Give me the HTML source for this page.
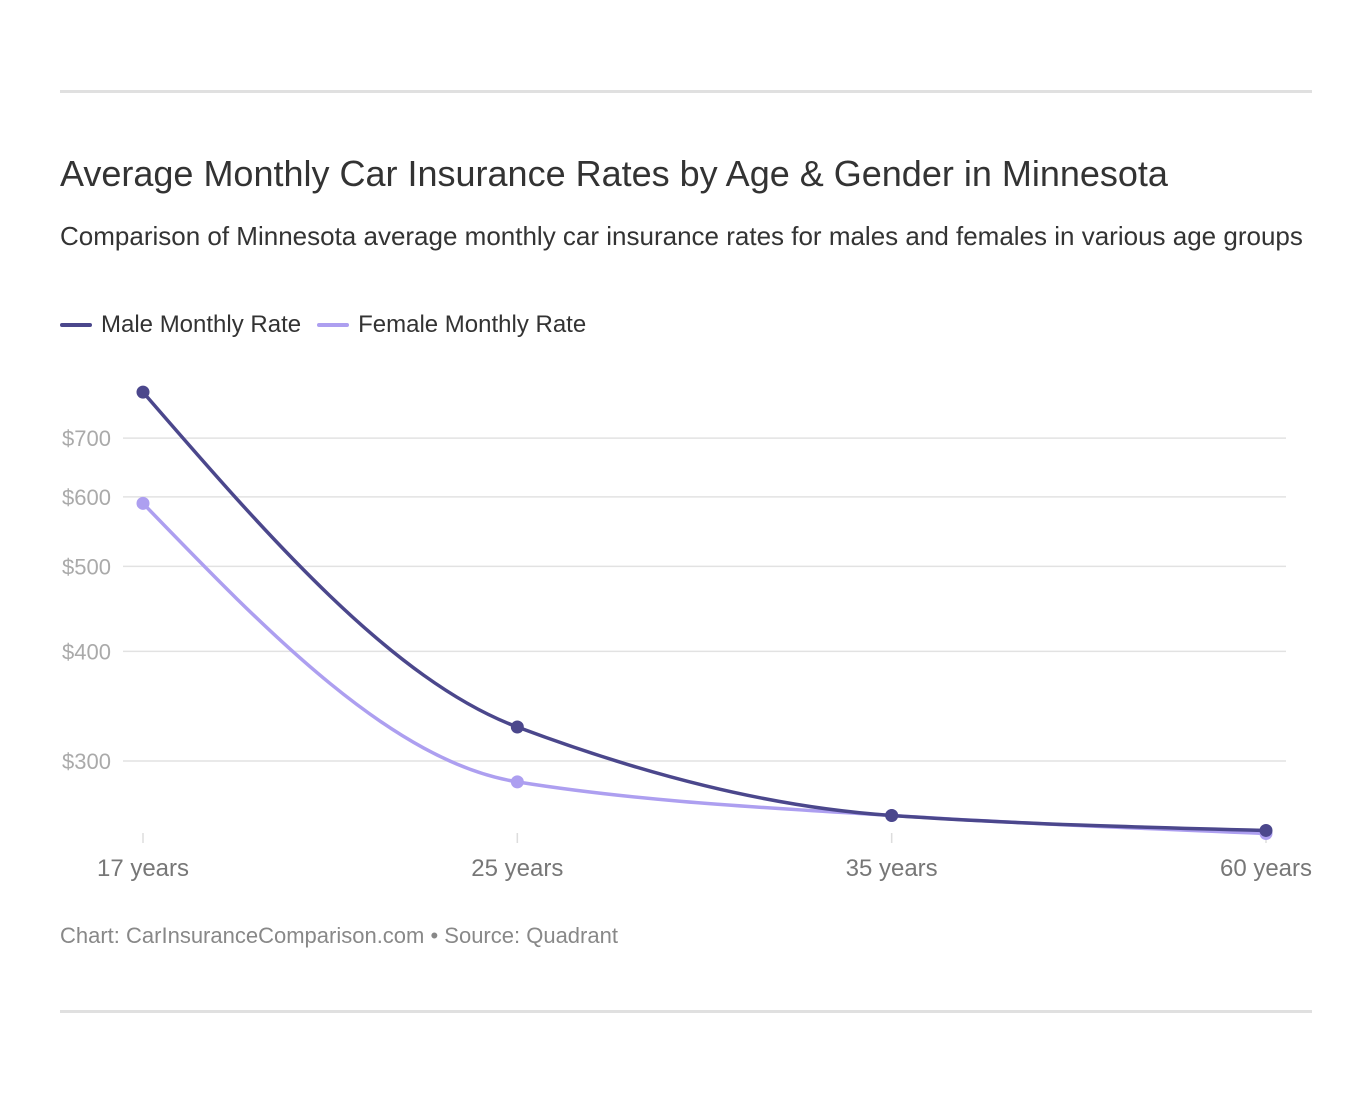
<!DOCTYPE html>
<html><head><meta charset="utf-8"><style>
body{margin:0;background:#fff;font-family:"Liberation Sans",Arial,sans-serif;}
.wrap{position:relative;width:1372px;height:1104px;}
.rule{position:absolute;left:60px;width:1252px;height:3px;background:#e0e0e0;}
h1{position:absolute;left:60px;top:153px;margin:0;font-size:36px;font-weight:normal;color:#333;white-space:nowrap;}
.sub{position:absolute;left:60px;top:221px;font-size:26px;color:#333;white-space:nowrap;}
.legend{position:absolute;left:60px;top:311px;font-size:24px;color:#333;display:flex;gap:16px;}
.li{display:flex;align-items:center;gap:9px;}
.sw{width:32px;height:4px;border-radius:2px;}
.foot{position:absolute;left:60px;top:923px;font-size:22px;color:#888;}
svg{position:absolute;left:0;top:0;}
</style></head><body>
<div class="wrap">
<div class="rule" style="top:90px"></div>
<h1>Average Monthly Car Insurance Rates by Age &amp; Gender in Minnesota</h1>
<div class="sub">Comparison of Minnesota average monthly car insurance rates for males and females in various age groups</div>
<div class="legend">
<div class="li"><span class="sw" style="background:#4b478c"></span>Male Monthly Rate</div>
<div class="li"><span class="sw" style="background:#ad9ff0"></span>Female Monthly Rate</div>
</div>
<svg id="chart" width="1372" height="1104"></svg>
<div class="foot">Chart: CarInsuranceComparison.com • Source: Quadrant</div>
<div class="rule" style="top:1010px"></div>
</div>
<script>
const categories=["17 years","25 years","35 years","60 years"];
const maleValues=[790,328,260,250];
const femaleValues=[590,284,260,248];
const yTicks=[300,400,500,600,700];
const yTickLabels=["$300","$400","$500","$600","$700"];
const NS="http://www.w3.org/2000/svg";
const svg=document.getElementById('chart');
const x0=143,x1=1266;
function xs(i){return x0+(x1-x0)*i/(categories.length-1);}
function ys(v){return 761-381*Math.log(v/300);}
function mk(t,a){const e=document.createElementNS(NS,t);for(const k in a)e.setAttribute(k,a[k]);svg.appendChild(e);return e;}
yTicks.forEach((t,i)=>{
 const l=mk('line',{x1:123,x2:1286,y1:ys(t),y2:ys(t),stroke:'#e2e2e2','stroke-width':1.5});
 
 
 const tx=mk('text',{x:62,y:ys(t)+8,'font-size':22,fill:'#aaa','font-family':'Liberation Sans,sans-serif'});
 tx.textContent=yTickLabels[i];
 
 
});
categories.forEach((c,i)=>{
 const l=mk('line',{x1:xs(i),x2:xs(i),y1:833,y2:843,stroke:'#ddd','stroke-width':1.5});
 
 
 const tx=mk('text',{x:xs(i),y:876,'font-size':24,fill:'#777','text-anchor':'middle','font-family':'Liberation Sans,sans-serif'});
 tx.textContent=c;
 
 
});
function monotonePath(px,py){
 const n=px.length,d=[],m=[];
 for(let i=0;i<n-1;i++)d.push((py[i+1]-py[i])/(px[i+1]-px[i]));
 for(let i=0;i<n;i++){
  if(i==0)m.push(d[0]);else if(i==n-1)m.push(d[n-2]);
  else m.push(d[i-1]*d[i]<=0?0:2/(1/d[i-1]+1/d[i]));
 }
 m[0]=(3*d[0]-m[1])/2; m[n-1]=(3*d[n-2]-m[n-2])/2;
 let s=`M${px[0]},${py[0]}`;
 for(let i=0;i<n-1;i++){
  const h=(px[i+1]-px[i])/3;
  s+=` C${px[i]+h},${py[i]+m[i]*h} ${px[i+1]-h},${py[i+1]-m[i+1]*h} ${px[i+1]},${py[i+1]}`;
 }
 return s;
}
function series(vals,color,name){
 const px=vals.map((v,i)=>xs(i)),py=vals.map(ys);
 const p=mk('path',{d:monotonePath(px,py),fill:'none',stroke:color,'stroke-width':3.5});
 
 
 vals.forEach((v,i)=>{
  const c=mk('circle',{cx:px[i],cy:py[i],r:6.5,fill:color});
  
  
 });
}
series(femaleValues,'#ad9ff0','female');
series(maleValues,'#4b478c','male');
</script>
</body></html>
